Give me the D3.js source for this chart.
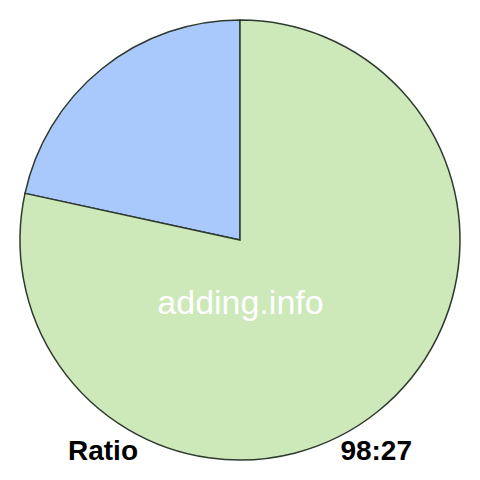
<!DOCTYPE html>
<html>
<head>
<meta charset="utf-8">
<script src="https://cdn.jsdelivr.net/npm/d3@7"></script>
<style>
  body { margin: 0; background: #fff; }
</style>
</head>
<body>
<script>
// slices, drawn clockwise from the top
var labels = ['blue', 'green'];
var values = [27, 98];
var colors = ['#a9c8fc', '#cde8b9'];

var svg = d3.select('body').append('svg')
  .attr('width', 480)
  .attr('height', 480);

var g = svg.append('g').attr('transform', 'translate(240,240)');

// blue part sits to the left of 12 o'clock, so start at -blue angle
var total = d3.sum(values);
var blueAngle = values[0] / total * 2 * Math.PI;
var pie = d3.pie().sort(null)
  .startAngle(-blueAngle)
  .endAngle(2 * Math.PI - blueAngle);
var arc = d3.arc().innerRadius(0).outerRadius(220);

g.selectAll('path')
  .data(pie(values))
  .enter()
  .append('path')
  .attr('d', arc)
  .style('fill', function (d, i) { return colors[i]; })
  .style('stroke', '#2f3a2f')
  .style('stroke-width', 1.5);

svg.append('text')
  .attr('x', 240.5)
  .attr('y', 314)
  .attr('text-anchor', 'middle')
  .style('font-family', 'Liberation Sans, Arial, sans-serif')
  .style('font-size', '34px')
  .style('fill', '#fff')
  .text('adding.info');

svg.append('text')
  .attr('x', 68)
  .attr('y', 460)
  .style('font-family', 'Liberation Sans, Arial, sans-serif')
  .style('font-size', '28px')
  .style('font-weight', 'bold')
  .text('Ratio');

svg.append('text')
  .attr('x', 412)
  .attr('y', 460)
  .attr('text-anchor', 'end')
  .style('font-family', 'Liberation Sans, Arial, sans-serif')
  .style('font-size', '28px')
  .style('font-weight', 'bold')
  .text(values[1] + ':' + values[0]);
</script>
</body>
</html>
